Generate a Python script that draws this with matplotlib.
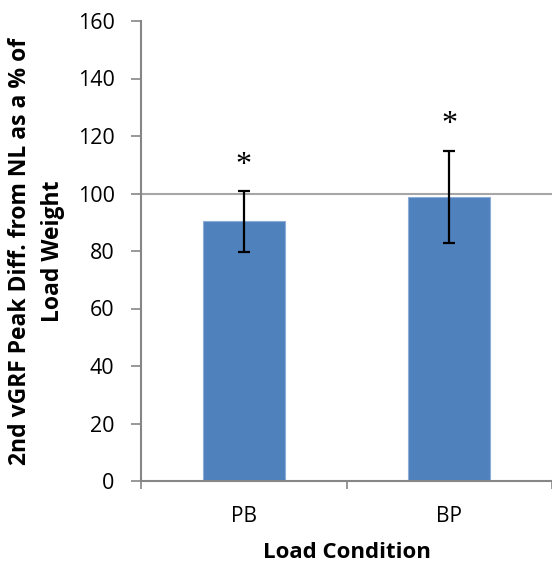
import matplotlib
matplotlib.use("Agg")
import matplotlib.pyplot as plt
import numpy as np

categories = ["PB", "BP"]
means = [90.3, 98.9]
errors = [10.6, 16.0]
significant = [True, True]
yticks = [0, 20, 40, 60, 80, 100, 120, 140, 160]

plt.rcParams['font.family'] = ['Open Sans', 'DejaVu Sans']

fig = plt.figure(figsize=(5.52, 5.65), dpi=100)
ax = fig.add_axes([141/552, 1-481/565, 1-141/552, (481-21)/565])

x = np.arange(len(categories))
ax.axhline(100, color="#A6A6A6", lw=1.5, zorder=1)
ax.bar(x, means, width=0.4, color="#4F81BD", edgecolor="#8EACD8", linewidth=0.8, zorder=2)
ax.errorbar(x, means, yerr=errors, fmt="none", ecolor="black", elinewidth=1.6,
            capsize=4.5, capthick=1.6, zorder=3)
for xi, m, e, s in zip(x, means, errors, significant):
    if s:
        ax.text(xi, m + e + 9.0, "*", ha="center", va="center", fontsize=23,
                family="Liberation Serif", color="black")

ax.set_xlim(-0.5, 1.5)
ax.set_ylim(0, 160)
ax.set_yticks(yticks)
ax.set_xticks(x)
ax.set_xticklabels(categories, fontsize=15)
ax.set_xticks([-0.5, 0.5, 1.5], minor=True)
ax.tick_params(axis="x", which="major", length=0, pad=18)
ax.tick_params(axis="x", which="minor", length=6, color="#868686", width=1.2)
ax.tick_params(axis="y", length=7, color="#868686", width=1.2, labelsize=15.5, pad=12)

for sp in ["top", "right"]:
    ax.spines[sp].set_visible(False)
for sp in ["left", "bottom"]:
    ax.spines[sp].set_color("#868686")
    ax.spines[sp].set_linewidth(1.5)

ax.set_ylabel("2nd vGRF Peak Diff. from NL as a % of\nLoad Weight", fontsize=16.5,
              fontweight="bold", labelpad=9, linespacing=1.5)
ax.set_xlabel("Load Condition", fontsize=16, fontweight="bold", labelpad=11)

fig.savefig("out.png", dpi=100)
